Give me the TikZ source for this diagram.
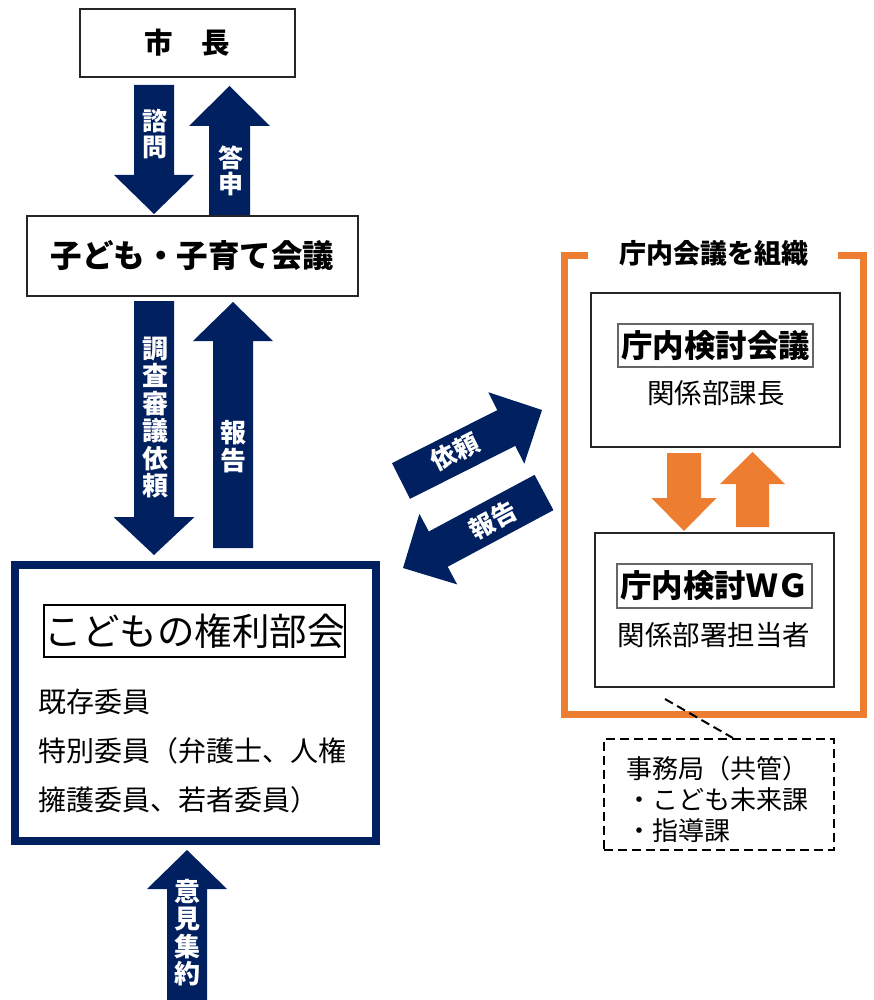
\documentclass[tikz,border=0pt]{standalone}
\usepackage{fontspec}
\setmainfont{Noto Sans CJK JP}
\usetikzlibrary{calc}
\definecolor{navy}{HTML}{002060}
\definecolor{orng}{HTML}{ED7D31}
% block arrow: #1 fill, #2 tail, #3 tip, #4 half shaft, #5 half head, #6 head length
\newcommand\blockarrow[6]{%
  \coordinate (ba-h) at ($(#3)!#6!(#2)$);
  \fill[#1] ($(#2)!#4!90:(#3)$) -- ($(ba-h)!#4!90:(#3)$) -- ($(ba-h)!#5!90:(#3)$) -- (#3)
    -- ($(ba-h)!#5!-90:(#3)$) -- ($(ba-h)!#4!-90:(#3)$) -- ($(#2)!#4!-90:(#3)$) -- cycle;
}
\begin{document}
\begin{tikzpicture}[x=1pt,y=-1pt,
  box/.style={draw=black!85, line width=1.3pt, fill=white, inner sep=0pt},
  ttl/.style={draw=black!60, line width=1.5pt, inner sep=0pt, font=\bfseries\fontsize{31.5}{33}\selectfont},
  alab/.style={text=white, font=\bfseries\fontsize{25}{26.5}\selectfont, align=center, inner sep=0pt},
  plain/.style={inner sep=0pt, font=\fontsize{27.5}{29}\selectfont},
  dsh/.style={line width=2pt, dash pattern=on 9pt off 5pt}]
\useasboundingbox (0,0) rectangle (873,1000);

% left column
\node[box, minimum width=215, minimum height=68, font=\bfseries\fontsize{28.5}{30}\selectfont] (mayor) at (187.5,43) {市　長};
\node[box, minimum width=331, minimum height=80, font=\bfseries\fontsize{31.5}{33}\selectfont] (kaigi) at (192.5,256) {子ども・子育て会議};

\node[draw=navy, line width=8pt, minimum width=361, minimum height=276] (bukai) at (195.5,703) {};
\node[draw=black, line width=2pt, minimum width=301, minimum height=52, inner sep=0pt, font=\fontsize{37.5}{39}\selectfont] (bukaititle) at (194.5,631) {こどもの権利部会};
\node[anchor=west, align=left, inner sep=0pt, font=\fontsize{28}{49}\selectfont] (members) at (38,751) {既存委員\\特別委員（弁護士、人権\\擁護委員、若者委員）};

% vertical arrows
\blockarrow{navy}{154,85}{154,214}{20pt}{40pt}{39pt}
\blockarrow{navy}{229.5,215}{229.5,86}{20.5pt}{40.5pt}{40pt}
\blockarrow{navy}{154,301}{154,555}{20pt}{40.5pt}{38pt}
\blockarrow{navy}{233,548}{233,302}{20pt}{40pt}{39pt}
\blockarrow{navy}{187,1001}{187,850}{20pt}{40pt}{39pt}
\node[alab] (l1) at (155,134) {諮\\問};
\node[alab] (l2) at (230.5,171) {答\\申};
\node[alab, font=\bfseries\fontsize{26}{27.5}\selectfont] (l3) at (155,417.5) {調\\査\\審\\議\\依\\頼};
\node[alab, font=\bfseries\fontsize{26}{27.5}\selectfont] (l4) at (233.5,446.5) {報\\告};
\node[alab, font=\bfseries\fontsize{26}{27.5}\selectfont] (l5) at (187.5,932.5) {意\\見\\集\\約};

% diagonal arrows
\blockarrow{navy}{401,481}{542,410}{20pt}{40pt}{40pt}
\blockarrow{navy}{544,492.5}{403,568}{20pt}{40pt}{40pt}
\node[alab, rotate=26.7] (l6) at (455,452) {依頼};
\node[alab, rotate=28] (l7) at (493,520) {報告};

% right side
\draw[orng, line width=7pt] (588,255) -- (564,255) -- (564,714) -- (863,714) -- (863,255) -- (838,255);
\node[inner sep=0pt, font=\bfseries\fontsize{27}{29}\selectfont] (soshiki) at (714,253) {庁内会議を組織};

\node[box, minimum width=249, minimum height=154] (kento) at (715.5,370) {};
\node[ttl, minimum width=195, minimum height=43] (kentotitle) at (715.5,345.5) {庁内検討会議};
\node[plain] (kachou) at (716,393) {関係部課長};

\blockarrow{orng}{684,453}{684,531}{17pt}{32.5pt}{33pt}
\blockarrow{orng}{752.5,527}{752.5,452}{16.5pt}{32.5pt}{32pt}

\node[box, minimum width=239, minimum height=154] (wg) at (714.5,610) {};
\node[ttl, minimum width=195, minimum height=44] (wgtitle) at (714.5,586) {庁内検討ＷＧ};
\node[plain] (tantou) at (714,635) {関係部署担当者};

\node[draw=black, dsh, minimum width=230, minimum height=111] (jimu) at (719,794.5) {};
\node[anchor=west, align=left, inner sep=0pt, font=\fontsize{26}{31}\selectfont] (jimutext) at (626,799) {事務局（共管）\\・こども未来課\\・指導課};
\coordinate (dstart) at (665,699);
\draw[dsh] (dstart) -- ($(jimu.north west)!0.56!(jimu.north east)$);
\end{tikzpicture}
\end{document}
